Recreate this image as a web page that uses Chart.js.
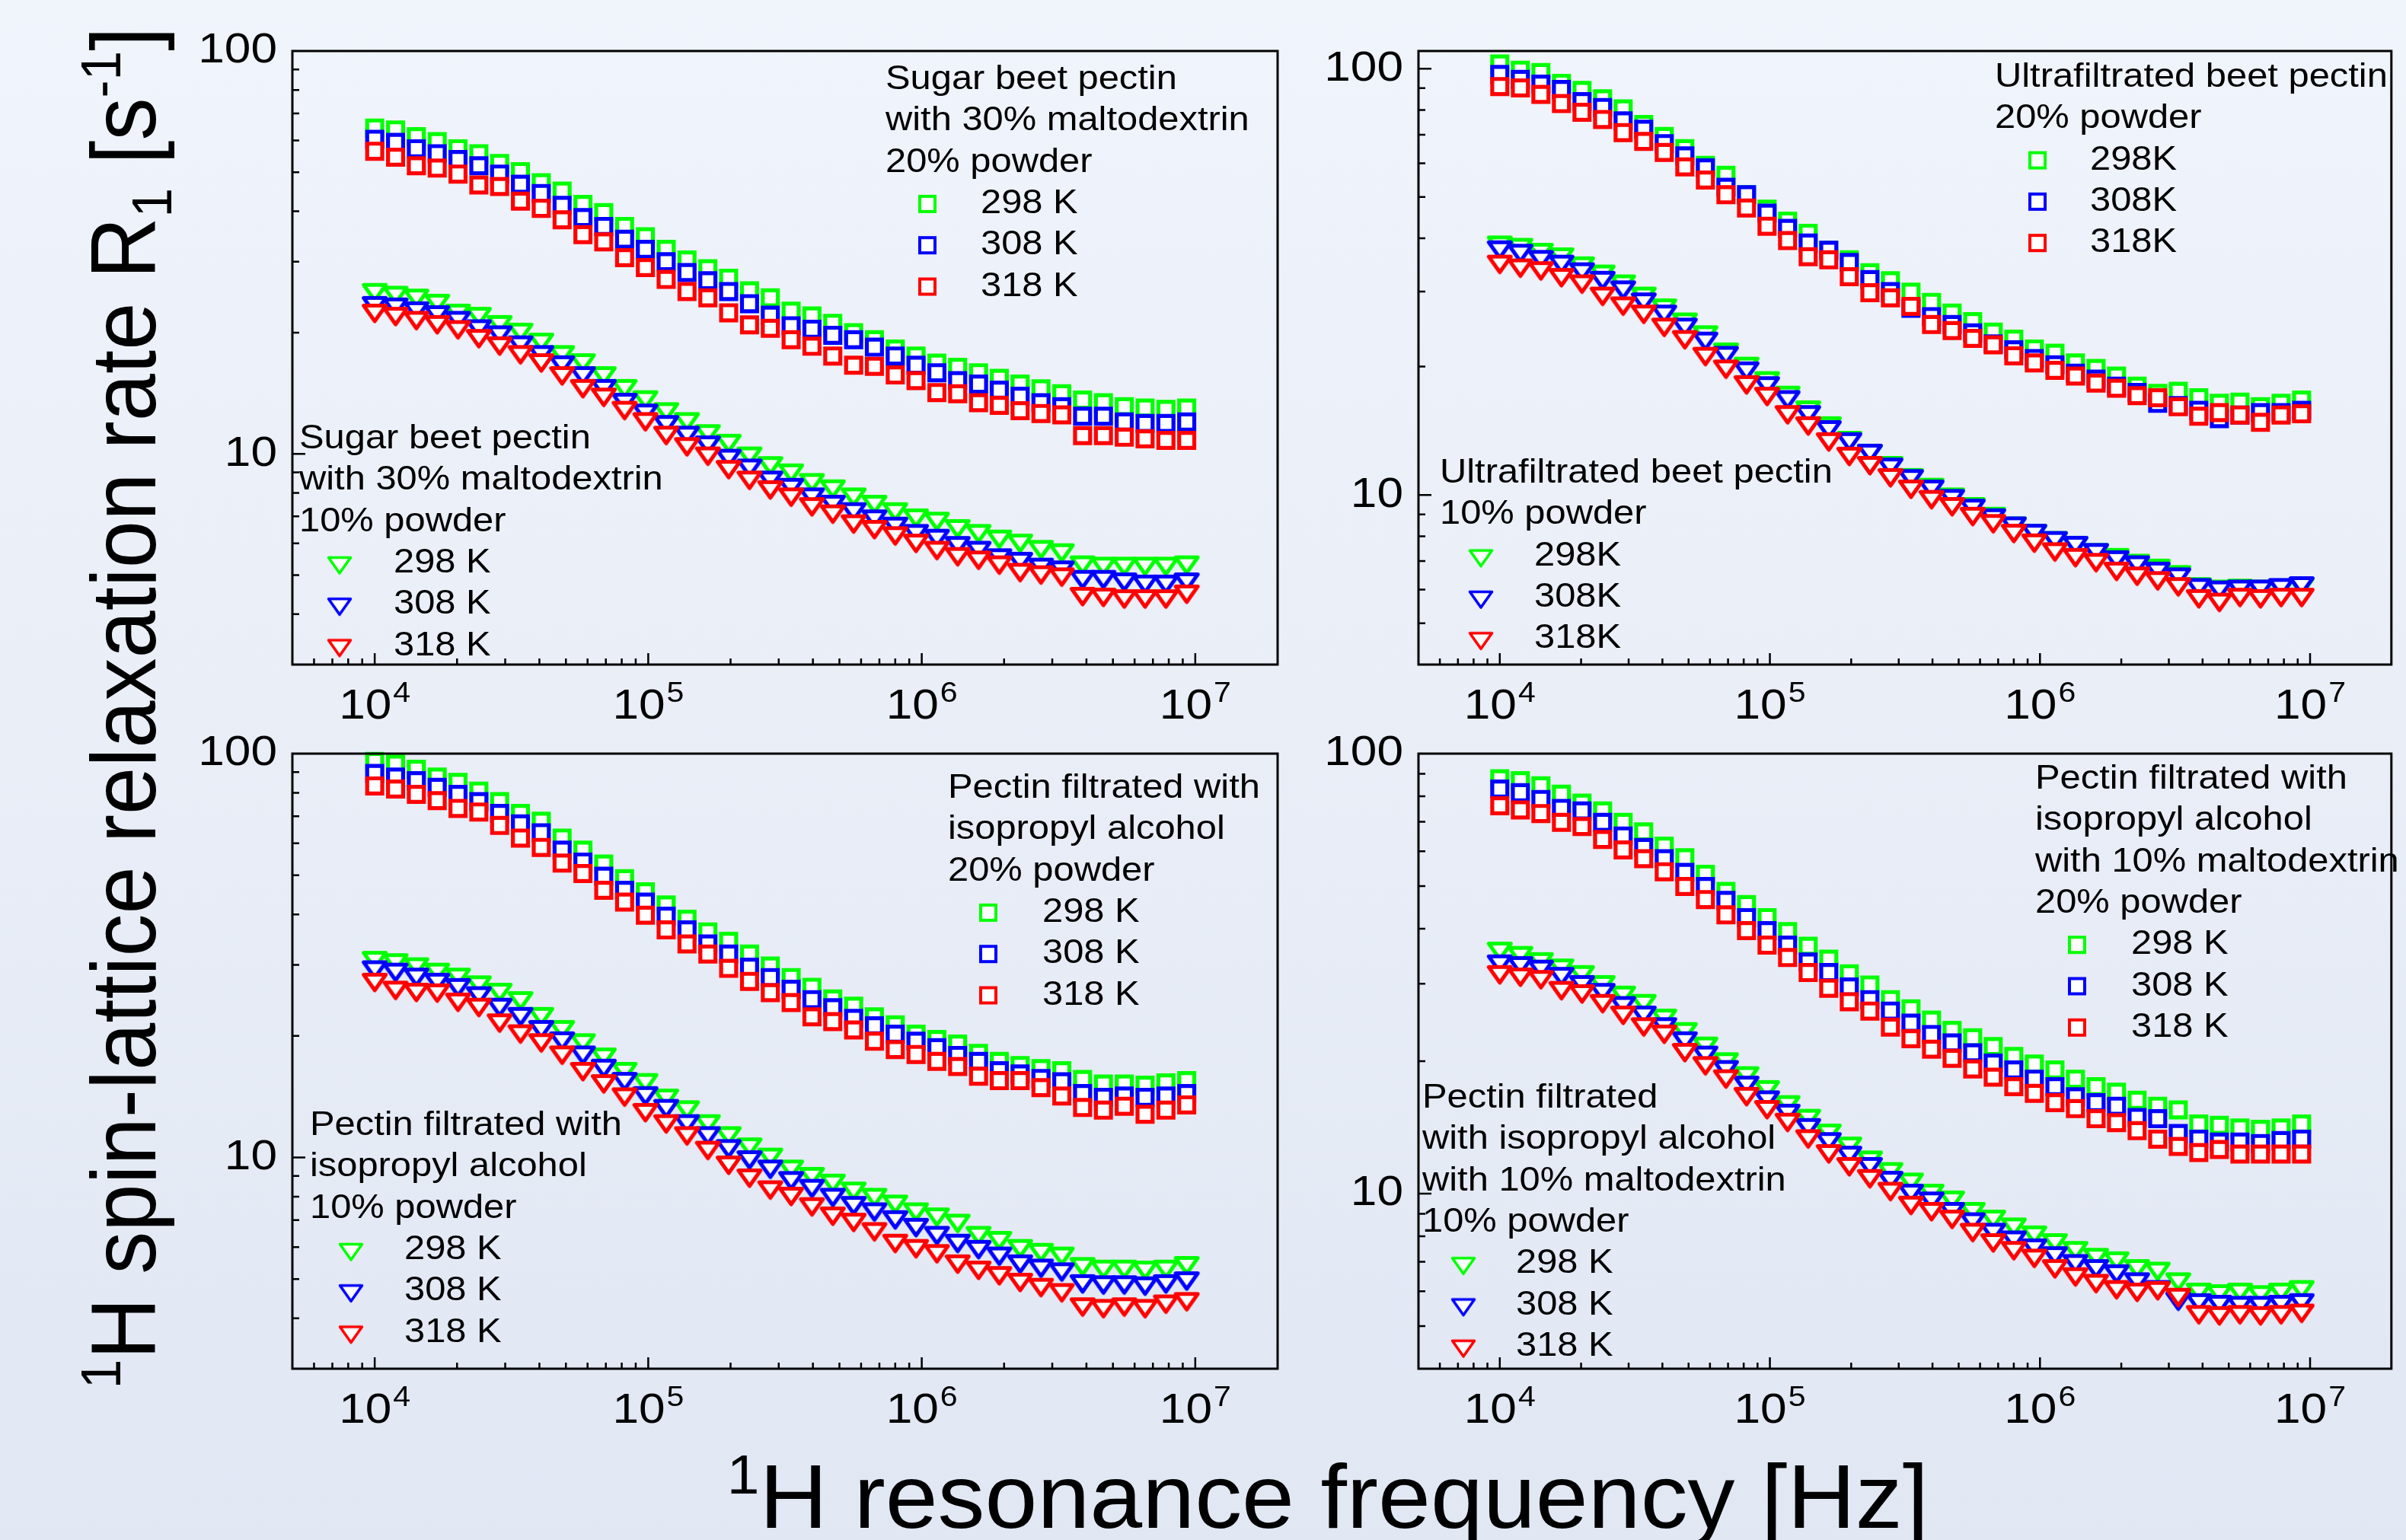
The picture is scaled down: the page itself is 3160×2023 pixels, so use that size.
<!DOCTYPE html>
<html>
<head>
<meta charset="utf-8">
<script src="https://cdn.jsdelivr.net/npm/chart.js@4.4.1/dist/chart.umd.min.js"></script>
<style>
  html, body { margin: 0; padding: 0; }
  body {
    width: 3160px; height: 2023px; overflow: hidden; position: relative;
    background: linear-gradient(#f0f4fb, #e1e7f3);
    font-family: 'Liberation Sans', Arial, sans-serif; color: #000;
  }
  canvas { position: absolute; }
  .title { position: absolute; white-space: nowrap; text-align: center; }
  .title sup { font-size: 62%; line-height: 0; position: relative; top: -0.62em; vertical-align: baseline; }
  .title sub { font-size: 62%; line-height: 0; position: relative; top: 0.28em; vertical-align: baseline; }
  #ytitle {
    left: -837px; top: 870px; width: 2000px; height: 120px; line-height: 120px;
    font-size: 112px; transform: rotate(-90deg) scaleY(1.08);
  }
  #xtitle {
    left: 744px; top: 1906px; width: 2000px; height: 120px; line-height: 120px;
    font-size: 118px; transform: scaleX(1.05);
  }
</style>
</head>
<body>
<canvas id="p1" width="1454" height="946" style="left:244px;top:37px"></canvas>
<canvas id="p2" width="1437" height="946" style="left:1723px;top:37px"></canvas>
<canvas id="p3" width="1454" height="948" style="left:244px;top:960px"></canvas>
<canvas id="p4" width="1437" height="948" style="left:1723px;top:960px"></canvas>
<div id="ytitle" class="title"><sup>1</sup>H spin-lattice relaxation rate R<sub>1</sub> [s<sup>-1</sup>]</div>
<div id="xtitle" class="title"><sup>1</sup>H resonance frequency [Hz]</div>
<script>
// resonance frequencies (Hz), same for every series
const freqHz = [1.000e4, 1.192e4, 1.420e4, 1.692e4, 2.016e4, 2.403e4, 2.862e4, 3.411e4, 4.064e4, 4.843e4,
  5.771e4, 6.877e4, 8.195e4, 9.763e4, 1.163e5, 1.386e5, 1.652e5, 1.968e5, 2.346e5, 2.795e5,
  3.330e5, 3.968e5, 4.728e5, 5.636e5, 6.713e5, 8.000e5, 9.530e5, 1.136e6, 1.353e6, 1.613e6,
  1.921e6, 2.289e6, 2.728e6, 3.251e6, 3.873e6, 4.615e6, 5.500e6, 6.553e6, 7.810e6, 9.305e6];

const xTickValues = [1e4, 1e5, 1e6, 1e7];
const xTickExponents = ['4', '5', '6', '7'];
const yTickValues = [10, 100];

// Sugar beet pectin with 30% maltodextrin
const p1Sq298 = [64.4, 63.7, 61.3, 59.6, 57.2, 55.6, 52.6, 50.2, 47.1, 44.9, 41.6, 39.7, 36.7, 34.6, 32.2, 30.3, 28.8, 27.3, 25.4, 24.4, 22.6, 22.0, 21.1, 20.0, 19.2, 18.2, 17.5, 16.8, 16.4, 15.9, 15.4, 14.9, 14.5, 14.1, 13.6, 13.4, 13.1, 13.0, 12.9, 13.0];
const p1Sq308 = [60.4, 59.3, 57.2, 55.6, 53.8, 51.9, 49.5, 46.7, 44.3, 41.4, 38.6, 36.7, 34.1, 32.2, 30.0, 28.2, 26.9, 25.3, 23.6, 22.1, 20.8, 20.4, 19.7, 19.2, 18.4, 17.5, 16.6, 15.9, 15.2, 14.9, 14.4, 13.9, 13.4, 13.1, 12.4, 12.4, 12.0, 11.9, 11.9, 12.0];
const p1Sq318 = [56.4, 54.5, 51.9, 51.2, 49.5, 46.5, 46.1, 42.4, 40.7, 38.1, 35.0, 33.6, 30.7, 29.0, 27.1, 25.3, 24.4, 22.4, 20.9, 20.5, 19.2, 18.5, 17.5, 16.6, 16.5, 15.7, 15.2, 14.2, 14.1, 13.4, 13.2, 12.8, 12.6, 12.5, 11.1, 11.1, 11.0, 10.9, 10.8, 10.8];
const p1Tri298 = [25.1, 24.7, 24.3, 23.6, 22.3, 21.9, 20.9, 20.0, 18.9, 17.6, 16.8, 15.6, 14.5, 13.6, 12.7, 12.0, 11.2, 10.6, 9.86, 9.33, 8.95, 8.47, 8.17, 7.80, 7.48, 7.17, 6.92, 6.79, 6.51, 6.33, 6.13, 5.99, 5.78, 5.67, 5.29, 5.25, 5.25, 5.25, 5.25, 5.29];
const p1Tri308 = [23.3, 23.1, 22.6, 22.1, 21.4, 20.4, 19.7, 18.6, 17.6, 16.6, 15.6, 14.5, 13.4, 12.6, 11.8, 11.1, 10.5, 9.73, 9.20, 8.59, 8.24, 7.80, 7.48, 7.17, 6.88, 6.60, 6.33, 6.16, 5.91, 5.75, 5.51, 5.40, 5.22, 5.14, 4.87, 4.87, 4.80, 4.74, 4.74, 4.80];
const p1Tri318 = [22.3, 21.9, 21.4, 20.9, 20.3, 19.3, 18.5, 17.6, 16.8, 15.6, 14.5, 13.8, 12.8, 12.0, 11.1, 10.4, 9.86, 9.13, 8.59, 8.13, 7.80, 7.38, 7.08, 6.69, 6.48, 6.25, 5.99, 5.75, 5.55, 5.44, 5.29, 5.07, 5.00, 4.94, 4.42, 4.40, 4.36, 4.36, 4.36, 4.48];

// Ultrafiltrated beet pectin
const p2Sq298 = [102.6, 99.2, 97.9, 92.4, 88.9, 85.0, 80.5, 74.0, 69.3, 64.9, 59.3, 56.2, 50.6, 46.8, 43.9, 41.1, 37.5, 35.6, 33.2, 31.8, 29.9, 28.3, 26.7, 25.5, 24.1, 23.2, 22.0, 21.5, 20.4, 19.8, 19.0, 18.0, 17.3, 17.5, 16.9, 16.4, 16.5, 16.1, 16.4, 16.7];
const p2Sq308 = [96.9, 94.4, 92.0, 89.4, 83.7, 81.1, 75.4, 72.1, 66.7, 62.4, 58.5, 52.7, 50.6, 45.8, 42.2, 39.0, 37.5, 35.1, 32.0, 30.0, 27.4, 26.2, 25.1, 24.0, 22.6, 21.9, 20.9, 20.2, 19.3, 18.7, 18.0, 17.4, 16.4, 16.2, 15.8, 15.1, 15.4, 15.6, 15.6, 15.8];
const p2Sq318 = [90.8, 90.1, 87.0, 82.8, 79.0, 76.0, 70.8, 67.5, 63.6, 58.8, 54.8, 50.6, 47.1, 42.7, 39.5, 36.2, 35.6, 32.5, 29.8, 29.0, 27.7, 25.1, 24.3, 23.3, 22.5, 21.2, 20.4, 19.6, 19.0, 18.3, 17.8, 17.1, 16.9, 16.1, 15.3, 15.6, 15.4, 14.8, 15.4, 15.5];
const p2Tri298 = [38.5, 38.0, 37.0, 36.1, 34.4, 32.9, 31.2, 29.2, 27.4, 25.4, 23.7, 21.6, 20.0, 18.5, 17.1, 15.8, 14.5, 13.4, 12.5, 11.7, 10.96, 10.4, 9.87, 9.37, 8.89, 8.44, 8.11, 7.80, 7.60, 7.31, 7.12, 6.90, 6.72, 6.49, 6.08, 6.00, 6.03, 6.00, 6.03, 6.08];
const p2Tri308 = [37.5, 36.8, 35.6, 34.7, 33.3, 31.8, 30.2, 28.3, 26.5, 24.7, 22.9, 21.2, 19.5, 18.0, 16.7, 15.4, 14.2, 13.3, 12.5, 11.6, 10.9, 10.3, 9.79, 9.29, 8.82, 8.44, 8.11, 7.80, 7.60, 7.31, 7.03, 6.84, 6.61, 6.41, 6.05, 5.97, 6.00, 6.00, 6.05, 6.11];
const p2Tri318 = [34.7, 34.0, 33.5, 32.3, 31.2, 29.2, 27.7, 26.5, 24.7, 23.1, 21.1, 19.7, 18.1, 17.0, 15.4, 14.5, 13.3, 12.3, 11.7, 10.96, 10.3, 9.74, 9.37, 8.89, 8.55, 8.11, 7.70, 7.34, 7.12, 6.93, 6.61, 6.44, 6.28, 6.08, 5.70, 5.59, 5.74, 5.70, 5.74, 5.74];

// Pectin filtrated with isopropyl alcohol
const p3Sq298 = [95.6, 94.2, 91.5, 87.5, 84.9, 80.8, 76.1, 71.1, 68.0, 61.8, 57.7, 53.3, 49.0, 45.5, 42.2, 38.9, 36.2, 34.3, 31.9, 29.8, 27.9, 26.4, 24.7, 23.7, 22.3, 21.3, 20.2, 19.6, 19.1, 18.1, 17.3, 16.9, 16.6, 16.4, 15.6, 15.2, 15.2, 15.1, 15.3, 15.5];
const p3Sq308 = [89.3, 87.5, 85.7, 82.5, 79.3, 76.1, 71.1, 67.0, 63.7, 57.7, 53.9, 49.7, 45.9, 42.9, 39.6, 36.6, 33.8, 31.9, 29.6, 27.9, 26.1, 24.6, 23.5, 22.1, 21.2, 20.2, 19.4, 18.7, 17.9, 17.3, 16.4, 16.1, 15.7, 15.4, 14.4, 14.1, 14.2, 14.1, 14.2, 14.4];
const p3Sq318 = [83.2, 81.7, 79.3, 76.5, 73.2, 71.7, 66.4, 61.8, 58.6, 53.6, 50.5, 45.9, 42.9, 39.8, 36.6, 33.8, 31.9, 29.4, 27.3, 25.6, 24.2, 22.3, 21.7, 20.7, 19.4, 18.5, 18.0, 17.3, 16.8, 15.9, 15.5, 15.5, 14.9, 14.2, 13.3, 13.1, 13.4, 12.8, 13.1, 13.5];
const p3Tri298 = [30.7, 30.3, 29.6, 28.7, 27.9, 26.7, 25.6, 24.4, 22.3, 20.7, 19.2, 17.7, 16.3, 15.3, 14.0, 13.1, 12.1, 11.3, 10.6, 10.0, 9.34, 8.96, 8.62, 8.24, 7.95, 7.65, 7.32, 7.11, 6.86, 6.40, 6.22, 5.94, 5.81, 5.69, 5.36, 5.28, 5.28, 5.25, 5.28, 5.39];
const p3Tri308 = [29.1, 28.7, 27.9, 27.1, 26.3, 25.1, 23.5, 22.3, 20.7, 19.4, 17.9, 16.6, 15.4, 14.2, 13.2, 12.1, 11.3, 10.5, 9.85, 9.34, 8.75, 8.37, 7.95, 7.59, 7.32, 7.00, 6.70, 6.40, 6.12, 5.91, 5.69, 5.44, 5.31, 5.20, 4.86, 4.83, 4.83, 4.80, 4.86, 4.94];
const p3Tri318 = [27.1, 25.9, 25.6, 25.5, 24.2, 23.5, 21.5, 20.2, 19.2, 17.9, 16.3, 15.2, 14.1, 12.9, 12.1, 11.3, 10.4, 9.56, 8.88, 8.30, 8.00, 7.54, 7.15, 6.90, 6.54, 6.12, 5.94, 5.77, 5.44, 5.25, 5.09, 4.90, 4.76, 4.62, 4.26, 4.22, 4.26, 4.22, 4.33, 4.39];

// Pectin filtrated with isopropyl alcohol with 10% maltodextrin
const p4Sq298 = [87.7, 86.8, 84.5, 80.9, 77.2, 74.1, 69.8, 66.4, 61.6, 58.0, 53.2, 48.6, 45.4, 42.4, 39.4, 36.5, 34.1, 31.6, 29.8, 27.6, 26.3, 24.8, 23.5, 22.6, 21.6, 20.5, 19.7, 19.1, 18.2, 17.5, 17.0, 16.3, 15.8, 15.5, 14.4, 14.3, 14.1, 14.0, 14.1, 14.4];
const p4Sq308 = [83.1, 81.5, 78.7, 75.1, 74.1, 69.8, 65.0, 61.2, 57.7, 53.7, 49.9, 46.4, 42.4, 39.6, 36.7, 33.6, 31.8, 29.5, 27.6, 26.0, 24.4, 23.0, 22.0, 20.9, 19.8, 19.1, 18.2, 17.5, 16.6, 16.1, 15.8, 14.9, 14.8, 13.7, 13.3, 13.1, 13.1, 13.0, 13.2, 13.3];
const p4Sq318 = [76.1, 74.5, 73.1, 69.8, 68.3, 63.8, 60.4, 57.7, 53.9, 49.9, 46.6, 43.0, 39.6, 36.7, 34.4, 31.8, 29.3, 27.3, 26.0, 23.9, 22.5, 21.3, 20.3, 19.2, 18.4, 17.5, 16.9, 16.1, 15.6, 14.8, 14.5, 13.9, 13.3, 12.8, 12.4, 12.6, 12.3, 12.3, 12.3, 12.3];
const p4Tri298 = [35.5, 34.7, 33.6, 32.5, 31.4, 29.8, 28.2, 27.0, 25.0, 23.3, 21.6, 19.9, 18.5, 17.2, 15.9, 14.8, 13.7, 12.8, 11.9, 11.2, 10.6, 10.0, 9.65, 9.09, 8.73, 8.38, 8.04, 7.72, 7.41, 7.15, 7.02, 6.74, 6.65, 6.29, 5.96, 5.91, 5.96, 5.88, 5.96, 6.04];
const p4Tri308 = [33.2, 32.9, 32.3, 31.1, 29.8, 28.6, 26.7, 25.4, 23.9, 22.2, 20.6, 19.1, 17.6, 16.3, 15.2, 14.1, 13.1, 12.2, 11.5, 10.7, 10.0, 9.60, 9.09, 8.61, 8.15, 7.83, 7.51, 7.21, 6.92, 6.74, 6.56, 6.29, 6.04, 5.69, 5.64, 5.59, 5.56, 5.56, 5.59, 5.64];
const p4Tri318 = [31.4, 31.0, 30.6, 28.9, 28.4, 27.0, 25.4, 23.9, 23.0, 20.9, 19.5, 18.2, 16.6, 15.5, 14.5, 13.3, 12.3, 11.5, 10.8, 10.1, 9.39, 9.09, 8.73, 8.15, 7.72, 7.41, 7.12, 6.74, 6.46, 6.24, 6.04, 5.96, 6.01, 5.80, 5.30, 5.27, 5.30, 5.27, 5.30, 5.34];

const colours = ['#00ff00', '#0000ff', '#ff0000'];
const tempsSpaced = ['298 K', '308 K', '318 K'];
const tempsTight = ['298K', '308K', '318K'];

const FONT = "'Liberation Sans', Arial, sans-serif";
const STRETCH = 1.11;
const LINE = 54.3;

function putText(ctx, txt, x, y, size, align, base) {
  ctx.save();
  ctx.font = size + 'px ' + FONT;
  ctx.textAlign = align;
  ctx.textBaseline = base;
  ctx.translate(x, y);
  ctx.scale(STRETCH, 1);
  ctx.fillText(txt, 0, 0);
  ctx.restore();
}
function textW(ctx, txt, size) {
  ctx.font = size + 'px ' + FONT;
  return ctx.measureText(txt).width * STRETCH;
}

// open down-pointing triangle, a little flatter than equilateral
const triCache = {};
function triangleImg(colour, lw) {
  const key = colour + lw;
  if (triCache[key]) return triCache[key];
  const c = document.createElement('canvas');
  c.width = 38; c.height = 30;
  const g = c.getContext('2d');
  g.beginPath();
  g.moveTo(4.5, 4.5); g.lineTo(33.5, 4.5); g.lineTo(19, 25); g.closePath();
  g.fillStyle = '#fff'; g.fill();
  g.lineWidth = lw; g.lineJoin = 'round'; g.strokeStyle = colour; g.stroke();
  triCache[key] = c;
  return c;
}

function drawNote(ctx, n, ox, oy) {
  ctx.fillStyle = '#000';
  let y = n.y - oy;
  n.lines.forEach(t => { putText(ctx, t, n.x - ox, y, 44, 'left', 'middle'); y += LINE; });
  n.entries.forEach((t, i) => {
    const mx = n.markerX - ox;
    if (n.shape === 'sq') {
      ctx.save();
      ctx.fillStyle = '#fff'; ctx.strokeStyle = colours[i]; ctx.lineWidth = 4;
      ctx.fillRect(mx - 10, y - 10, 20, 20);
      ctx.strokeRect(mx - 10, y - 10, 20, 20);
      ctx.restore();
    } else {
      ctx.drawImage(triangleImg(colours[i], 3.6), mx - 19, y + 3 - 15);
    }
    ctx.fillStyle = '#000';
    putText(ctx, t, n.labelX - ox, y, 44, 'left', 'middle');
    y += LINE;
  });
}

function framePlugin(panel) {
  return {
    id: 'frame' + panel.id,
    afterDraw(chart) {
      const ctx = chart.ctx, a = chart.chartArea;
      const xs = chart.scales.x, ys = chart.scales.y;
      ctx.save();
      ctx.strokeStyle = '#000';
      ctx.lineWidth = 2.5;
      ctx.beginPath();
      for (let e = 3; e <= 7; e++) {
        for (let m = 1; m <= 9; m++) {
          const v = m * Math.pow(10, e);
          if (v <= xs.min || v >= xs.max) continue;
          const px = xs.getPixelForValue(v);
          ctx.moveTo(px, a.bottom);
          ctx.lineTo(px, a.bottom - (m === 1 ? 15 : 8));
        }
      }
      for (let e = 0; e <= 2; e++) {
        for (let m = 1; m <= 9; m++) {
          const v = m * Math.pow(10, e);
          if (v <= ys.min || v >= ys.max) continue;
          const py = ys.getPixelForValue(v);
          ctx.moveTo(a.left, py);
          ctx.lineTo(a.left + (m === 1 ? 17 : 9), py);
        }
      }
      ctx.stroke();
      ctx.lineWidth = 3;
      ctx.strokeRect(a.left, a.top, a.right - a.left, a.bottom - a.top);
      ctx.fillStyle = '#000';
      yTickValues.forEach(v => {
        if (v < ys.min || v > ys.max) return;
        putText(ctx, String(v), a.left - 20, ys.getPixelForValue(v), 56, 'right', 'middle');
      });
      xTickValues.forEach((v, i) => {
        const px = xs.getPixelForValue(v);
        const wb = textW(ctx, '10', 56), we = textW(ctx, xTickExponents[i], 37);
        const x0 = px - (wb + 2 + we) / 2;
        putText(ctx, '10', x0, a.bottom + 71, 56, 'left', 'alphabetic');
        putText(ctx, xTickExponents[i], x0 + wb + 2, a.bottom + 49, 37, 'left', 'alphabetic');
      });
      panel.notes.forEach(n => drawNote(ctx, n, panel.left, panel.top));
      ctx.restore();
    }
  };
}

function series(vals, i, shape, label) {
  return {
    label: label,
    order: 3 - i,
    data: freqHz.map((f, k) => ({ x: f, y: vals[k] })),
    showLine: false,
    clip: false,
    pointStyle: shape === 'sq' ? 'rect' : triangleImg(colours[i], 5),
    pointRadius: 14,
    pointHoverRadius: 14,
    pointBorderWidth: 5.2,
    pointBorderColor: colours[i],
    pointBackgroundColor: '#fff'
  };
}

const panels = [
  { id: 'p1', left: 244, top: 37, padRight: 20, yMin: 3, yMax: 100,
    sq: [p1Sq298, p1Sq308, p1Sq318], tri: [p1Tri298, p1Tri308, p1Tri318],
    notes: [
      { x: 1163, y: 105, lines: ['Sugar beet pectin', 'with 30% maltodextrin', '20% powder'], entries: tempsSpaced, shape: 'sq', markerX: 1218, labelX: 1288 },
      { x: 393, y: 577, lines: ['Sugar beet pectin', 'with 30% maltodextrin', '10% powder'], entries: tempsSpaced, shape: 'tri', markerX: 446, labelX: 517 }
    ] },
  { id: 'p2', left: 1723, top: 37, padRight: 3, yMin: 4, yMax: 110,
    sq: [p2Sq298, p2Sq308, p2Sq318], tri: [p2Tri298, p2Tri308, p2Tri318],
    notes: [
      { x: 2620, y: 102, lines: ['Ultrafiltrated beet pectin', '20% powder'], entries: tempsTight, shape: 'sq', markerX: 2676, labelX: 2745 },
      { x: 1891, y: 622, lines: ['Ultrafiltrated beet pectin', '10% powder'], entries: tempsTight, shape: 'tri', markerX: 1945, labelX: 2015 }
    ] },
  { id: 'p3', left: 244, top: 960, padRight: 20, yMin: 3, yMax: 100,
    sq: [p3Sq298, p3Sq308, p3Sq318], tri: [p3Tri298, p3Tri308, p3Tri318],
    notes: [
      { x: 1245, y: 1036, lines: ['Pectin filtrated with', 'isopropyl alcohol', '20% powder'], entries: tempsSpaced, shape: 'sq', markerX: 1298, labelX: 1369 },
      { x: 407, y: 1479, lines: ['Pectin filtrated with', 'isopropyl alcohol', '10% powder'], entries: tempsSpaced, shape: 'tri', markerX: 461, labelX: 531 }
    ] },
  { id: 'p4', left: 1723, top: 960, padRight: 3, yMin: 4, yMax: 100,
    sq: [p4Sq298, p4Sq308, p4Sq318], tri: [p4Tri298, p4Tri308, p4Tri318],
    notes: [
      { x: 2673, y: 1024, lines: ['Pectin filtrated with', 'isopropyl alcohol', 'with 10% maltodextrin', '20% powder'], entries: tempsSpaced, shape: 'sq', markerX: 2728, labelX: 2799 },
      { x: 1868, y: 1443, lines: ['Pectin filtrated', 'with isopropyl alcohol', 'with 10% maltodextrin', '10% powder'], entries: tempsSpaced, shape: 'tri', markerX: 1922, labelX: 1991 }
    ] }
];

panels.forEach(p => {
  const datasets = [];
  p.sq.forEach((vals, i) => datasets.push(series(vals, i, 'sq', '20% ' + tempsSpaced[i])));
  p.tri.forEach((vals, i) => datasets.push(series(vals, i, 'tri', '10% ' + tempsSpaced[i])));
  new Chart(document.getElementById(p.id), {
    type: 'scatter',
    data: { datasets: datasets },
    options: {
      responsive: false,
      animation: false,
      devicePixelRatio: 1,
      events: [],
      layout: { padding: { left: 140, top: 30, right: p.padRight, bottom: 110 } },
      scales: {
        x: { type: 'logarithmic', min: 5000, max: 2e7, display: false },
        y: { type: 'logarithmic', min: p.yMin, max: p.yMax, display: false }
      },
      plugins: { legend: { display: false }, tooltip: { enabled: false } }
    },
    plugins: [framePlugin(p)]
  });
});
</script>
</body>
</html>
